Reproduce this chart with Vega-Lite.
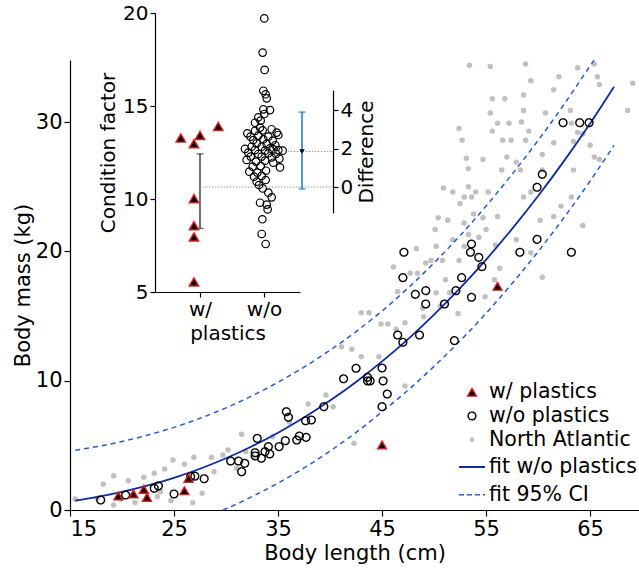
{
  "$schema": "https://vega.github.io/schema/vega-lite/v6.json",
  "width": 569,
  "height": 450,
  "autosize": {"type": "none"},
  "padding": {"left": 70, "top": 60, "right": 0, "bottom": 60},
  "background": "#ffffff",
  "config": {
    "view": {"stroke": null},
    "font": "DejaVu Sans",
    "axis": {
      "grid": false,
      "domainColor": "#000000",
      "tickColor": "#000000",
      "labelColor": "#000000",
      "titleColor": "#000000",
      "labelFont": "DejaVu Sans",
      "titleFont": "DejaVu Sans",
      "titleFontWeight": "normal",
      "labelFontSize": 21,
      "titleFontSize": 21,
      "tickSize": 6,
      "domainWidth": 1.2,
      "tickWidth": 1.2,
      "labelPadding": 2
    },
    "legend": {
      "orient": "none",
      "legendX": 388,
      "legendY": 322,
      "padding": 0,
      "labelFont": "DejaVu Sans",
      "labelFontSize": 20.5,
      "labelColor": "#000000",
      "labelLimit": 300,
      "labelOffset": 3,
      "rowPadding": 2.7,
      "symbolOpacity": 1
    }
  },
  "datasets": {
    "northAtlantic": [
      {"L": 15.5, "m": 0.85}, {"L": 17.6, "m": 0.9}, {"L": 18.2, "m": 1.99}, {"L": 19.2, "m": 2.65},
      {"L": 19.2, "m": 0.39}, {"L": 19.9, "m": 0.83}, {"L": 20.6, "m": 2.27}, {"L": 21.25, "m": 0.57},
      {"L": 22.1, "m": 2.53}, {"L": 23.1, "m": 2.84}, {"L": 23.4, "m": 1.03}, {"L": 23.7, "m": 1.42},
      {"L": 24.1, "m": 3.17}, {"L": 24.7, "m": 0.72}, {"L": 24.9, "m": 3.87}, {"L": 26.0, "m": 3.53},
      {"L": 26.8, "m": 0.57}, {"L": 26.9, "m": 4.08}, {"L": 27.7, "m": 1.29}, {"L": 28.6, "m": 4.08},
      {"L": 28.85, "m": 2.96}, {"L": 29.7, "m": 4.25}, {"L": 30.2, "m": 4.64}, {"L": 31.0, "m": 3.22},
      {"L": 31.5, "m": 5.85}, {"L": 31.9, "m": 4.51}, {"L": 32.6, "m": 4.12}, {"L": 34.5, "m": 5.67},
      {"L": 36.1, "m": 6.78}, {"L": 37.9, "m": 8.2}, {"L": 39.6, "m": 8.89}, {"L": 40.3, "m": 7.99},
      {"L": 41.1, "m": 12.63}, {"L": 42.1, "m": 12.43}, {"L": 42.3, "m": 5.16}, {"L": 43.0, "m": 11.86},
      {"L": 43.0, "m": 15.26}, {"L": 43.75, "m": 15.26}, {"L": 44.7, "m": 11.86}, {"L": 44.9, "m": 14.39},
      {"L": 45.55, "m": 14.39}, {"L": 46.35, "m": 13.97}, {"L": 47.2, "m": 14.49}, {"L": 47.2, "m": 9.59},
      {"L": 49.0, "m": 14.95}, {"L": 48.9, "m": 15.6}, {"L": 50.6, "m": 15.78}, {"L": 52.3, "m": 15.2},
      {"L": 53.4, "m": 34.4}, {"L": 55.4, "m": 34.3}, {"L": 58.8, "m": 34.5}, {"L": 63.8, "m": 34.2},
      {"L": 65.4, "m": 34.5}, {"L": 52.4, "m": 29.5}, {"L": 52.7, "m": 28.6}, {"L": 55.6, "m": 31.8},
      {"L": 55.4, "m": 30.7}, {"L": 56.8, "m": 31.8}, {"L": 57.2, "m": 29.9}, {"L": 58.6, "m": 30.9},
      {"L": 58.6, "m": 32.1}, {"L": 59.3, "m": 33.2}, {"L": 58.4, "m": 30.0}, {"L": 59.1, "m": 29.3},
      {"L": 56.1, "m": 29.9}, {"L": 55.6, "m": 29.3}, {"L": 56.6, "m": 28.6}, {"L": 57.4, "m": 28.6},
      {"L": 58.8, "m": 28.6}, {"L": 60.7, "m": 30.7}, {"L": 61.5, "m": 32.5}, {"L": 62.0, "m": 33.5},
      {"L": 63.1, "m": 30.9}, {"L": 63.8, "m": 29.2}, {"L": 63.4, "m": 28.5}, {"L": 63.2, "m": 29.9},
      {"L": 64.3, "m": 29.1}, {"L": 65.7, "m": 33.5}, {"L": 65.9, "m": 32.9}, {"L": 65.4, "m": 27.3},
      {"L": 65.9, "m": 27.1}, {"L": 63.4, "m": 26.3}, {"L": 65.0, "m": 28.2}, {"L": 68.6, "m": 30.9},
      {"L": 69.1, "m": 33.0}, {"L": 53.1, "m": 27.2}, {"L": 53.3, "m": 26.4}, {"L": 54.7, "m": 27.1},
      {"L": 55.2, "m": 24.6}, {"L": 56.5, "m": 26.3}, {"L": 57.9, "m": 26.9}, {"L": 58.3, "m": 26.3},
      {"L": 57.0, "m": 27.3}, {"L": 60.4, "m": 27.5}, {"L": 60.4, "m": 26.3}, {"L": 50.9, "m": 24.9},
      {"L": 51.8, "m": 24.6}, {"L": 53.3, "m": 25.0}, {"L": 54.0, "m": 24.6}, {"L": 58.6, "m": 24.2},
      {"L": 59.3, "m": 24.6}, {"L": 52.5, "m": 23.7}, {"L": 53.6, "m": 24.2}, {"L": 53.8, "m": 22.9},
      {"L": 54.7, "m": 22.6}, {"L": 56.1, "m": 22.7}, {"L": 55.0, "m": 21.7}, {"L": 50.4, "m": 22.6},
      {"L": 51.3, "m": 22.4}, {"L": 52.9, "m": 22.2}, {"L": 53.3, "m": 21.3}, {"L": 51.8, "m": 20.9},
      {"L": 50.1, "m": 21.7}, {"L": 50.2, "m": 20.4}, {"L": 49.7, "m": 19.3}, {"L": 48.3, "m": 20.2},
      {"L": 47.7, "m": 18.3}, {"L": 48.4, "m": 18.3}, {"L": 50.8, "m": 19.3}, {"L": 52.4, "m": 19.3},
      {"L": 52.9, "m": 20.4}, {"L": 54.3, "m": 21.1}, {"L": 55.9, "m": 20.5}, {"L": 56.3, "m": 18.7},
      {"L": 55.8, "m": 17.8}, {"L": 51.1, "m": 17.8}, {"L": 50.2, "m": 16.8}, {"L": 49.2, "m": 19.1},
      {"L": 46.1, "m": 18.8}, {"L": 46.5, "m": 16.9}, {"L": 51.5, "m": 16.8}, {"L": 57.9, "m": 20.9},
      {"L": 60.4, "m": 18.0}, {"L": 59.3, "m": 19.9}, {"L": 60.2, "m": 22.4}, {"L": 61.5, "m": 22.7},
      {"L": 62.2, "m": 23.5}, {"L": 63.2, "m": 24.2}, {"L": 64.3, "m": 22.0}, {"L": 54.9, "m": 16.5},
      {"L": 61.5, "m": 28.4}, {"L": 52.9, "m": 24.2}
    ],
    "stomachs": [
      {"L": 17.95, "m": 0.77, "group": "w/o plastics"}, {"L": 20.35, "m": 1.16, "group": "w/o plastics"},
      {"L": 23.1, "m": 1.68, "group": "w/o plastics"}, {"L": 23.5, "m": 1.86, "group": "w/o plastics"},
      {"L": 25.0, "m": 1.24, "group": "w/o plastics"}, {"L": 26.6, "m": 2.58, "group": "w/o plastics"},
      {"L": 27.0, "m": 2.62, "group": "w/o plastics"}, {"L": 27.9, "m": 2.42, "group": "w/o plastics"},
      {"L": 30.45, "m": 3.79, "group": "w/o plastics"}, {"L": 31.2, "m": 3.79, "group": "w/o plastics"},
      {"L": 31.5, "m": 2.96, "group": "w/o plastics"}, {"L": 31.8, "m": 3.61, "group": "w/o plastics"},
      {"L": 32.8, "m": 4.43, "group": "w/o plastics"}, {"L": 32.8, "m": 4.18, "group": "w/o plastics"},
      {"L": 33.0, "m": 5.54, "group": "w/o plastics"}, {"L": 33.4, "m": 4.0, "group": "w/o plastics"},
      {"L": 33.75, "m": 4.51, "group": "w/o plastics"}, {"L": 34.07, "m": 4.9, "group": "w/o plastics"},
      {"L": 34.2, "m": 4.33, "group": "w/o plastics"}, {"L": 35.1, "m": 4.9, "group": "w/o plastics"},
      {"L": 35.7, "m": 5.36, "group": "w/o plastics"}, {"L": 35.8, "m": 7.6, "group": "w/o plastics"},
      {"L": 36.0, "m": 7.17, "group": "w/o plastics"}, {"L": 36.8, "m": 5.41, "group": "w/o plastics"},
      {"L": 37.05, "m": 5.72, "group": "w/o plastics"}, {"L": 37.7, "m": 5.62, "group": "w/o plastics"},
      {"L": 37.65, "m": 6.9, "group": "w/o plastics"}, {"L": 38.2, "m": 6.96, "group": "w/o plastics"},
      {"L": 39.4, "m": 7.99, "group": "w/o plastics"}, {"L": 41.3, "m": 10.15, "group": "w/o plastics"},
      {"L": 42.5, "m": 10.96, "group": "w/o plastics"}, {"L": 43.6, "m": 10.26, "group": "w/o plastics"},
      {"L": 43.6, "m": 9.98, "group": "w/o plastics"}, {"L": 43.85, "m": 9.98, "group": "w/o plastics"},
      {"L": 45.0, "m": 10.98, "group": "w/o plastics"}, {"L": 45.1, "m": 9.98, "group": "w/o plastics"},
      {"L": 45.0, "m": 7.99, "group": "w/o plastics"}, {"L": 45.5, "m": 8.97, "group": "w/o plastics"},
      {"L": 46.5, "m": 13.53, "group": "w/o plastics"}, {"L": 47.0, "m": 12.97, "group": "w/o plastics"},
      {"L": 48.6, "m": 13.53, "group": "w/o plastics"}, {"L": 49.2, "m": 15.93, "group": "w/o plastics"},
      {"L": 51.0, "m": 15.93, "group": "w/o plastics"}, {"L": 51.95, "m": 13.1, "group": "w/o plastics"},
      {"L": 47.1, "m": 19.93, "group": "w/o plastics"}, {"L": 47.0, "m": 17.97, "group": "w/o plastics"},
      {"L": 48.2, "m": 16.68, "group": "w/o plastics"}, {"L": 49.2, "m": 16.96, "group": "w/o plastics"},
      {"L": 52.1, "m": 16.96, "group": "w/o plastics"}, {"L": 52.65, "m": 17.97, "group": "w/o plastics"},
      {"L": 53.6, "m": 20.57, "group": "w/o plastics"}, {"L": 53.5, "m": 19.93, "group": "w/o plastics"},
      {"L": 54.3, "m": 19.54, "group": "w/o plastics"}, {"L": 54.6, "m": 18.82, "group": "w/o plastics"},
      {"L": 53.6, "m": 16.45, "group": "w/o plastics"}, {"L": 58.25, "m": 19.93, "group": "w/o plastics"},
      {"L": 59.9, "m": 20.93, "group": "w/o plastics"}, {"L": 59.9, "m": 24.96, "group": "w/o plastics"},
      {"L": 60.4, "m": 25.96, "group": "w/o plastics"}, {"L": 63.2, "m": 19.93, "group": "w/o plastics"},
      {"L": 62.4, "m": 29.95, "group": "w/o plastics"}, {"L": 64.0, "m": 29.95, "group": "w/o plastics"},
      {"L": 64.9, "m": 29.95, "group": "w/o plastics"},
      {"L": 19.65, "m": 1.08, "group": "w/ plastics"}, {"L": 21.1, "m": 1.24, "group": "w/ plastics"},
      {"L": 22.1, "m": 1.6, "group": "w/ plastics"}, {"L": 22.4, "m": 0.98, "group": "w/ plastics"},
      {"L": 26.0, "m": 1.49, "group": "w/ plastics"}, {"L": 26.4, "m": 2.45, "group": "w/ plastics"},
      {"L": 45.0, "m": 5.03, "group": "w/ plastics"}, {"L": 56.1, "m": 17.3, "group": "w/ plastics"}
    ],
    "fit": [
      {"L": 15.5, "m": 0.72, "curve": "fit"}, {"L": 17.5, "m": 0.99, "curve": "fit"}, {"L": 20, "m": 1.4, "curve": "fit"},
      {"L": 22.5, "m": 1.9, "curve": "fit"}, {"L": 25, "m": 2.49, "curve": "fit"}, {"L": 27.5, "m": 3.19, "curve": "fit"},
      {"L": 30, "m": 4.0, "curve": "fit"}, {"L": 32.5, "m": 4.93, "curve": "fit"}, {"L": 35, "m": 5.98, "curve": "fit"},
      {"L": 37.5, "m": 7.15, "curve": "fit"}, {"L": 40, "m": 8.46, "curve": "fit"}, {"L": 42.5, "m": 9.9, "curve": "fit"},
      {"L": 45, "m": 11.49, "curve": "fit"}, {"L": 47.5, "m": 13.22, "curve": "fit"}, {"L": 50, "m": 15.11, "curve": "fit"},
      {"L": 52.5, "m": 17.15, "curve": "fit"}, {"L": 55, "m": 19.36, "curve": "fit"}, {"L": 57.5, "m": 21.74, "curve": "fit"},
      {"L": 60, "m": 24.28, "curve": "fit"}, {"L": 62.5, "m": 27.0, "curve": "fit"}, {"L": 65, "m": 29.89, "curve": "fit"},
      {"L": 67.3, "m": 32.73, "curve": "fit"},
      {"L": 15.5, "m": 4.62, "curve": "upper"}, {"L": 17.5, "m": 4.89, "curve": "upper"}, {"L": 20, "m": 5.3, "curve": "upper"},
      {"L": 22.5, "m": 5.8, "curve": "upper"}, {"L": 25, "m": 6.39, "curve": "upper"}, {"L": 27.5, "m": 7.09, "curve": "upper"},
      {"L": 30, "m": 7.9, "curve": "upper"}, {"L": 32.5, "m": 8.83, "curve": "upper"}, {"L": 35, "m": 9.88, "curve": "upper"},
      {"L": 37.5, "m": 11.05, "curve": "upper"}, {"L": 40, "m": 12.36, "curve": "upper"}, {"L": 42.5, "m": 13.8, "curve": "upper"},
      {"L": 45, "m": 15.39, "curve": "upper"}, {"L": 47.5, "m": 17.17, "curve": "upper"}, {"L": 50, "m": 19.11, "curve": "upper"},
      {"L": 52.5, "m": 21.22, "curve": "upper"}, {"L": 55, "m": 23.51, "curve": "upper"}, {"L": 57.5, "m": 25.97, "curve": "upper"},
      {"L": 60, "m": 28.58, "curve": "upper"}, {"L": 62.5, "m": 31.37, "curve": "upper"}, {"L": 65, "m": 34.34, "curve": "upper"},
      {"L": 65.4, "m": 34.8, "curve": "upper"},
      {"L": 29.7, "m": 0, "curve": "lower"}, {"L": 30, "m": 0.1, "curve": "lower"}, {"L": 32.5, "m": 1.03, "curve": "lower"},
      {"L": 35, "m": 2.08, "curve": "lower"}, {"L": 37.5, "m": 3.25, "curve": "lower"}, {"L": 40, "m": 4.56, "curve": "lower"},
      {"L": 42.5, "m": 6.0, "curve": "lower"}, {"L": 45, "m": 7.59, "curve": "lower"}, {"L": 47.5, "m": 9.27, "curve": "lower"},
      {"L": 50, "m": 11.11, "curve": "lower"}, {"L": 52.5, "m": 13.08, "curve": "lower"}, {"L": 55, "m": 15.21, "curve": "lower"},
      {"L": 57.5, "m": 17.52, "curve": "lower"}, {"L": 60, "m": 19.98, "curve": "lower"}, {"L": 62.5, "m": 22.62, "curve": "lower"},
      {"L": 65, "m": 25.44, "curve": "lower"}, {"L": 67.3, "m": 28.2, "curve": "lower"}
    ],
    "insetPlastic": [
      {"pos": 0.7, "cf": 13.28}, {"pos": 0.906, "cf": 12.97}, {"pos": 1.0, "cf": 13.42}, {"pos": 1.286, "cf": 13.9},
      {"pos": 0.906, "cf": 10.02}, {"pos": 0.906, "cf": 8.56}, {"pos": 0.906, "cf": 7.96}, {"pos": 0.906, "cf": 5.54}
    ],
    "insetNoPlastic": [
      {"pos": 2.005, "cf": 19.71}, {"pos": 1.979, "cf": 17.87}, {"pos": 2.01, "cf": 16.94}, {"pos": 1.99, "cf": 15.82},
      {"pos": 2.026, "cf": 15.63}, {"pos": 2.042, "cf": 15.41}, {"pos": 1.99, "cf": 14.82}, {"pos": 2.094, "cf": 14.78},
      {"pos": 2.005, "cf": 14.57}, {"pos": 1.911, "cf": 14.39}, {"pos": 1.948, "cf": 14.21}, {"pos": 1.859, "cf": 14.1},
      {"pos": 1.938, "cf": 13.84}, {"pos": 1.74, "cf": 13.53}, {"pos": 1.859, "cf": 13.66}, {"pos": 1.979, "cf": 13.69},
      {"pos": 2.12, "cf": 13.75}, {"pos": 2.198, "cf": 13.57}, {"pos": 1.79, "cf": 13.35}, {"pos": 1.911, "cf": 13.41},
      {"pos": 2.068, "cf": 13.35}, {"pos": 2.224, "cf": 13.44}, {"pos": 1.833, "cf": 13.17}, {"pos": 1.99, "cf": 13.21},
      {"pos": 2.135, "cf": 13.14}, {"pos": 1.885, "cf": 12.99}, {"pos": 2.042, "cf": 12.96}, {"pos": 2.177, "cf": 12.89},
      {"pos": 1.807, "cf": 12.81}, {"pos": 1.964, "cf": 12.81}, {"pos": 2.094, "cf": 12.72}, {"pos": 1.703, "cf": 12.69},
      {"pos": 1.859, "cf": 12.63}, {"pos": 2.016, "cf": 12.6}, {"pos": 2.146, "cf": 12.67}, {"pos": 2.224, "cf": 12.63},
      {"pos": 2.292, "cf": 12.6}, {"pos": 1.755, "cf": 12.49}, {"pos": 1.911, "cf": 12.42}, {"pos": 2.068, "cf": 12.46},
      {"pos": 2.188, "cf": 12.42}, {"pos": 1.792, "cf": 12.28}, {"pos": 1.964, "cf": 12.28}, {"pos": 2.12, "cf": 12.24},
      {"pos": 2.24, "cf": 12.17}, {"pos": 1.729, "cf": 12.1}, {"pos": 1.875, "cf": 12.01}, {"pos": 2.016, "cf": 12.06},
      {"pos": 2.146, "cf": 11.95}, {"pos": 1.823, "cf": 11.74}, {"pos": 1.948, "cf": 11.77}, {"pos": 2.25, "cf": 11.7},
      {"pos": 1.771, "cf": 11.47}, {"pos": 1.896, "cf": 11.42}, {"pos": 2.031, "cf": 11.52}, {"pos": 1.844, "cf": 11.2},
      {"pos": 1.964, "cf": 11.24}, {"pos": 1.885, "cf": 10.93}, {"pos": 2.026, "cf": 11.02}, {"pos": 1.922, "cf": 10.75},
      {"pos": 1.979, "cf": 10.57}, {"pos": 2.068, "cf": 10.34}, {"pos": 2.12, "cf": 10.09}, {"pos": 1.938, "cf": 9.8},
      {"pos": 2.042, "cf": 9.7}, {"pos": 2.057, "cf": 9.44}, {"pos": 1.974, "cf": 8.91}, {"pos": 1.964, "cf": 8.12},
      {"pos": 2.026, "cf": 7.58}
    ],
    "plasticBar": [{"pos": 1.0, "cf": 8.42, "cf2": 12.43}],
    "meanLines": [{"x": 0, "x2": 1, "d": 0}, {"x": 0.48, "x2": 1, "d": 1.85}],
    "diffBar": [{"x": 0.767, "d": -0.1, "d2": 3.9}],
    "diffMean": [{"x": 0.767, "d": 1.85}]
  },
  "layer": [
    {
      "encoding": {
        "x": {
          "field": "L", "type": "quantitative",
          "scale": {"domain": [15, 69.7], "nice": false, "zero": false},
          "axis": {"orient": "bottom", "values": [15, 25, 35, 45, 55, 65], "title": "Body length (cm)", "titlePadding": 3}
        },
        "y": {
          "field": "m", "type": "quantitative",
          "scale": {"domain": [0, 34.8], "nice": false},
          "axis": {"orient": "left", "values": [0, 10, 20, 30], "title": "Body mass (kg)", "titlePadding": 2}
        }
      },
      "layer": [
        {
          "data": {"name": "northAtlantic"},
          "mark": {"type": "circle", "size": 30, "color": "#c0c0c0", "opacity": 1}
        },
        {
          "data": {"name": "fit"},
          "transform": [{"filter": "datum.curve === 'fit'"}],
          "mark": {"type": "line", "color": "#0a2aa8", "strokeWidth": 1.8, "interpolate": "monotone"},
          "encoding": {
            "x": {"field": "L", "type": "quantitative"},
            "y": {"field": "m", "type": "quantitative"}
          }
        },
        {
          "data": {"name": "fit"},
          "transform": [{"filter": "datum.curve !== 'fit'"}],
          "mark": {"type": "line", "color": "#1f5fd4", "strokeWidth": 1.5, "strokeDash": [5, 4], "interpolate": "monotone"},
          "encoding": {
            "x": {"field": "L", "type": "quantitative"},
            "y": {"field": "m", "type": "quantitative"},
            "detail": {"field": "curve"}
          }
        },
        {
          "data": {"name": "stomachs"},
          "mark": {"type": "point", "filled": true, "opacity": 1},
          "encoding": {
            "shape": {
              "field": "group", "type": "nominal",
              "scale": {
                "domain": ["w/ plastics", "w/o plastics", "North Atlantic", "fit w/o plastics", "fit 95% CI"],
                "range": ["triangle-up", "circle", "circle", "stroke", "stroke"]
              },
              "legend": {"title": null}
            },
            "fill": {
              "field": "group", "type": "nominal",
              "scale": {
                "domain": ["w/ plastics", "w/o plastics", "North Atlantic", "fit w/o plastics", "fit 95% CI"],
                "range": ["#000000", "transparent", "#c0c0c0", "transparent", "transparent"]
              },
              "legend": {"title": null}
            },
            "stroke": {
              "field": "group", "type": "nominal",
              "scale": {
                "domain": ["w/ plastics", "w/o plastics", "North Atlantic", "fit w/o plastics", "fit 95% CI"],
                "range": ["#e41a1c", "#000000", "transparent", "#0a2aa8", "#1f5fd4"]
              },
              "legend": {"title": null}
            },
            "size": {
              "field": "group", "type": "nominal",
              "scale": {
                "type": "ordinal",
                "domain": ["w/ plastics", "w/o plastics", "North Atlantic", "fit w/o plastics", "fit 95% CI"],
                "range": [80, 60, 22, 676, 676]
              },
              "legend": {"title": null}
            },
            "strokeWidth": {
              "field": "group", "type": "nominal",
              "scale": {
                "type": "ordinal",
                "domain": ["w/ plastics", "w/o plastics", "North Atlantic", "fit w/o plastics", "fit 95% CI"],
                "range": [1.4, 1.4, 0, 2, 1.6]
              },
              "legend": {"title": null}
            },
            "strokeDash": {
              "field": "group", "type": "nominal",
              "scale": {
                "domain": ["w/ plastics", "w/o plastics", "North Atlantic", "fit w/o plastics", "fit 95% CI"],
                "range": [[1, 0], [1, 0], [1, 0], [1, 0], [5, 3]]
              },
              "legend": {"title": null}
            }
          }
        }
      ]
    },
    {
      "encoding": {
        "x": {
          "field": "pos", "type": "quantitative",
          "scale": {"domain": [0.297, 2.5625], "range": [85, 230], "nice": false, "zero": false},
          "axis": {
            "orient": "bottom", "offset": -218, "values": [1, 2],
            "labelExpr": "datum.value === 1 ? 'w/' : 'w/o'",
            "title": "plastics", "labelFontSize": 20, "titleFontSize": 20, "tickSize": 5, "titlePadding": 4
          }
        },
        "y": {
          "field": "cf", "type": "quantitative",
          "scale": {"domain": [5, 20], "range": [232, -47], "nice": false, "zero": false},
          "axis": {
            "orient": "left", "offset": -85, "values": [5, 10, 15, 20],
            "title": "Condition factor", "labelFontSize": 20, "titleFontSize": 20, "tickSize": 5, "titlePadding": 4
          }
        }
      },
      "layer": [
        {
          "data": {"name": "plasticBar"},
          "mark": {"type": "errorbar", "ticks": {"size": 7}, "color": "#333333", "thickness": 1.4},
          "encoding": {"y2": {"field": "cf2"}}
        },
        {
          "data": {"name": "insetNoPlastic"},
          "mark": {"type": "point", "shape": "circle", "size": 56, "filled": false, "stroke": "#000000", "strokeWidth": 1.2, "opacity": 1}
        },
        {
          "data": {"name": "insetPlastic"},
          "mark": {"type": "point", "shape": "triangle-up", "size": 90, "filled": true, "fill": "#000000", "stroke": "#e41a1c", "strokeWidth": 1.4, "opacity": 1}
        }
      ]
    },
    {
      "encoding": {
        "x": {
          "field": "x", "type": "quantitative",
          "scale": {"domain": [0, 1], "range": [130, 263], "nice": false, "zero": false},
          "axis": null
        },
        "y": {
          "field": "d", "type": "quantitative",
          "scale": {"domain": [-1.35, 5.05], "range": [153, 30], "nice": false, "zero": false},
          "axis": {
            "orient": "right", "offset": -306, "values": [0, 2, 4],
            "title": "Difference", "titleAngle": 270, "titleBaseline": "top",
            "labelFontSize": 20, "titleFontSize": 20, "tickSize": 5, "titlePadding": 4
          }
        }
      },
      "layer": [
        {
          "data": {"name": "meanLines"},
          "mark": {"type": "rule", "color": "#9a9a9a", "strokeWidth": 1, "strokeDash": [1.5, 1.5]},
          "encoding": {"x2": {"field": "x2"}}
        },
        {
          "data": {"name": "diffBar"},
          "mark": {"type": "errorbar", "ticks": {"size": 7}, "color": "#1a7ee0", "thickness": 1.6},
          "encoding": {"y2": {"field": "d2"}}
        },
        {
          "data": {"name": "diffMean"},
          "mark": {"type": "point", "shape": "triangle-down", "size": 30, "filled": true, "color": "#000000", "opacity": 1}
        }
      ]
    }
  ],
  "resolve": {"scale": {"x": "independent", "y": "independent"}}
}
